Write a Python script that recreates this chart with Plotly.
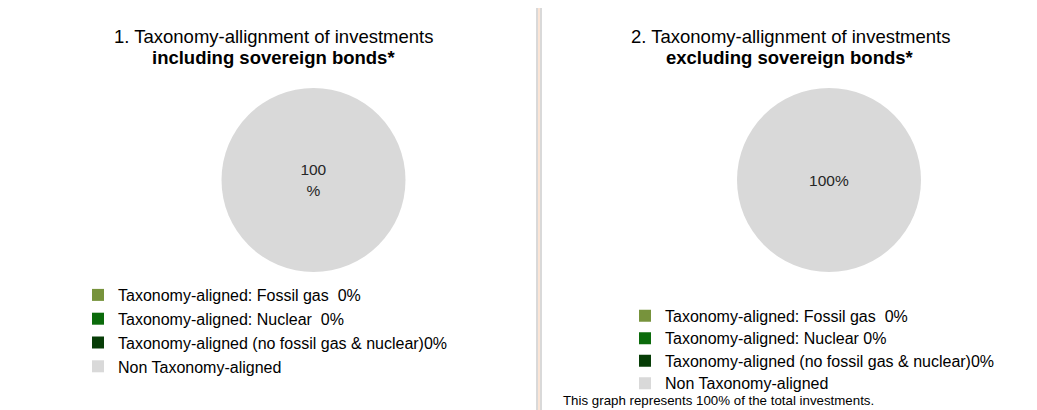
import plotly.graph_objects as go

# Screen size and the 8px page margin the browser adds around the figure
SCREEN_W, SCREEN_H = 1037, 410
OFF = 8
W, H = SCREEN_W - OFF, SCREEN_H - OFF

categories = [
    "Taxonomy-aligned: Fossil gas",
    "Taxonomy-aligned: Nuclear",
    "Taxonomy-aligned (no fossil gas & nuclear)",
    "Non Taxonomy-aligned",
]
incl_values = [0, 0, 0, 100]
excl_values = [0, 0, 0, 100]
colors = ["#77933C", "#0B6B0B", "#073D07", "#D9D9D9"]
chart_titles = ["1. Taxonomy-allignment of investments", "2. Taxonomy-allignment of investments"]
chart_subtitles = ["including sovereign bonds*", "excluding sovereign bonds*"]
footnote = "This graph represents 100% of the total investments."

FONT = "Liberation Sans, Arial, sans-serif"
LEG_TXT = 16


def px_x(v):
    return (v - OFF) / W


def px_y(v):
    return 1 - (v - OFF) / H


def legend_labels(values, seps):
    out = []
    for cat, v, s in zip(categories, values, seps):
        body = cat if s is None else f"{cat}{s}{v}%"
        out.append(f'<span style="font-size:{LEG_TXT}px">{body}</span>')
    return out


labels1 = legend_labels(incl_values, ["  ", "  ", "", None])
labels2 = legend_labels(excl_values, ["  ", " ", "", None])

text1 = ["" if v == 0 else f"{v}<br>%" for v in incl_values]
text2 = ["" if v == 0 else f"{v}%" for v in excl_values]

fig = go.Figure()

fig.add_trace(go.Pie(
    labels=labels1, values=incl_values, text=text1, textinfo="text",
    marker=dict(colors=colors, line=dict(width=0)),
    sort=False, direction="clockwise",
    domain=dict(x=[px_x(221.5), px_x(405.5)], y=[px_y(272), px_y(88)]),
    textfont=dict(family=FONT, size=15.5, color="#262626"),
    insidetextorientation="horizontal",
    legend="legend", legendgroup="incl", hoverinfo="label+percent",
))
fig.add_trace(go.Pie(
    labels=labels2, values=excl_values, text=text2, textinfo="text",
    marker=dict(colors=colors, line=dict(width=0)),
    sort=False, direction="clockwise",
    domain=dict(x=[px_x(737), px_x(921)], y=[px_y(272), px_y(88)]),
    textfont=dict(family=FONT, size=15.5, color="#262626"),
    insidetextorientation="horizontal",
    legend="legend2", legendgroup="excl", hoverinfo="label+percent",
))

shapes = [
    dict(type="rect", xref="paper", yref="paper", layer="below",
         x0=px_x(-10), x1=px_x(537), y0=px_y(440), y1=px_y(-10),
         fillcolor="white", line=dict(color="#D9D9D9", width=2)),
    dict(type="rect", xref="paper", yref="paper", layer="below",
         x0=px_x(541), x1=px_x(1060), y0=px_y(440), y1=px_y(-10),
         fillcolor="white", line=dict(color="#D9D9D9", width=2)),
]

annotations = []
for cx, t, s in zip([273, 790], chart_titles, chart_subtitles):
    annotations.append(dict(
        xref="paper", yref="paper", x=px_x(cx), y=px_y(37),
        xanchor="center", yanchor="middle", showarrow=False,
        text=t, font=dict(family=FONT, size=18.5, color="#000000"),
    ))
    annotations.append(dict(
        xref="paper", yref="paper", x=px_x(cx), y=px_y(58),
        xanchor="center", yanchor="middle", showarrow=False,
        text=f"<b>{s}</b>", font=dict(family=FONT, size=18.5, color="#000000"),
    ))
annotations.append(dict(
    xref="paper", yref="paper", x=px_x(561), y=0,
    xanchor="left", yanchor="bottom", showarrow=False,
    text=footnote, font=dict(family=FONT, size=13.3, color="#000000"),
))

fig.update_layout(
    width=W, height=H,
    margin=dict(l=0, r=0, t=0, b=0),
    paper_bgcolor="#FBE5D6",
    plot_bgcolor="white",
    font=dict(family=FONT, color="#000000"),
    shapes=shapes,
    annotations=annotations,
    legend=dict(x=px_x(78), y=px_y(278), xanchor="left", yanchor="top",
                font=dict(family=FONT, size=16, color="#000000"),
                bgcolor="rgba(0,0,0,0)", borderwidth=0),
    legend2=dict(x=px_x(625), y=px_y(299.5), xanchor="left", yanchor="top",
                 font=dict(family=FONT, size=15, color="#000000"),
                 bgcolor="rgba(0,0,0,0)", borderwidth=0),
)

fig.write_html("out.html")
